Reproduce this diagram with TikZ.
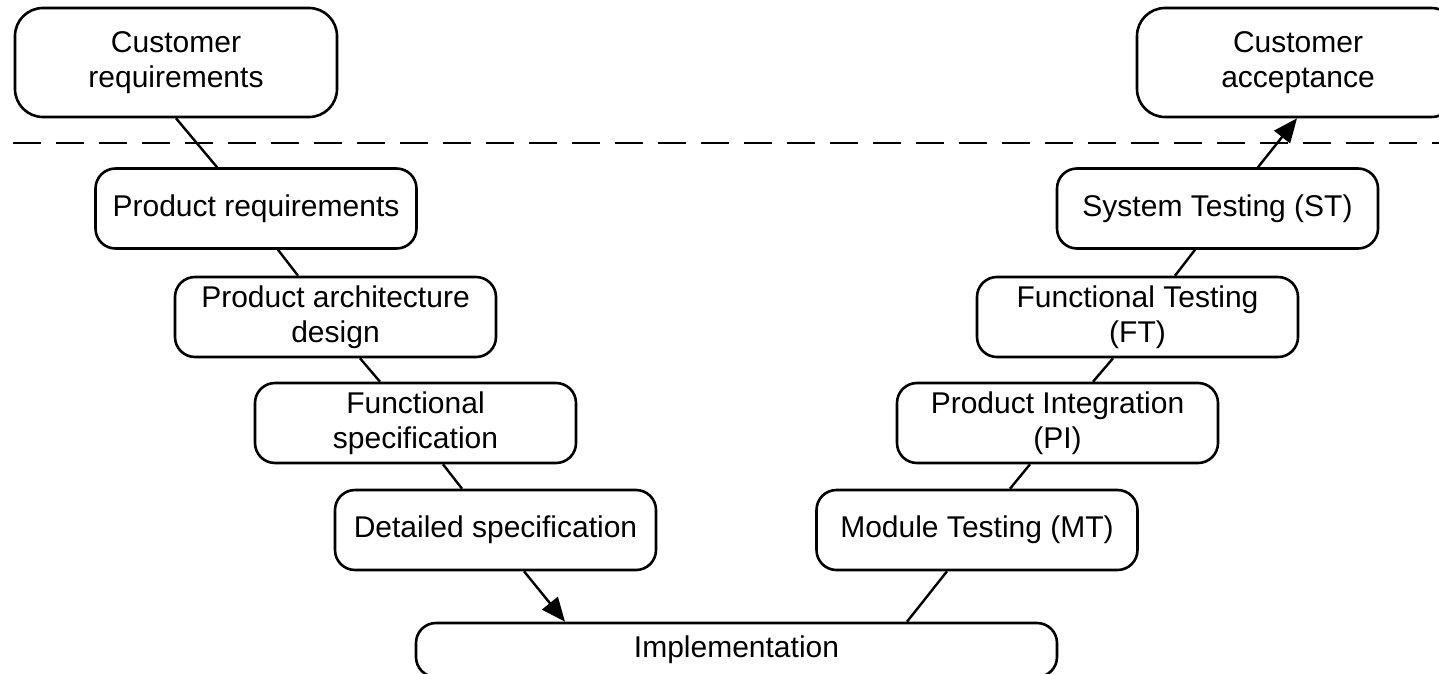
\documentclass[tikz,border=0pt]{standalone}
\usepackage{fontspec}
\setmainfont{Liberation Sans}
\usetikzlibrary{arrows.meta}
\tikzset{
  vbox/.style={draw, line width=2.6pt, rounded corners=20pt, inner sep=0pt,
    minimum width=321pt, minimum height=80pt, align=center,
    font=\fontsize{30}{35}\selectfont},
  custbox/.style={vbox, rounded corners=28pt, minimum width=322pt, minimum height=109pt},
  implbox/.style={vbox, minimum width=641pt, minimum height=54pt},
  link/.style={line width=2.4pt},
  arrowlink/.style={link, -{Triangle[length=24pt,width=20pt]}},
  sepline/.style={line width=2.6pt, dash pattern=on 28pt off 15pt}
}
\begin{document}
\begin{tikzpicture}[x=1pt,y=-1pt]
\clip (0,0) rectangle (1439,674);
\fill[white] (0,0) rectangle (1439,674);
% nodes
\node[custbox] (cr) at (176,62.5) {Customer\\requirements};
\node[custbox] (ca) at (1298,62.5) {Customer\\acceptance};
\node[vbox] (pr) at (256,208.5) {Product requirements};
\node[vbox] (pa) at (335.5,317) {Product architecture\\design};
\node[vbox] (fs) at (415.5,423) {Functional\\specification};
\node[vbox] (ds) at (495.5,530) {Detailed specification};
\node[implbox] (im) at (736.5,650) {Implementation};
\node[vbox] (mt) at (977,530) {Module Testing (MT)};
\node[vbox] (pi) at (1057.5,423) {Product Integration\\(PI)};
\node[vbox] (ft) at (1137.5,317) {Functional Testing\\(FT)};
\node[vbox] (st) at (1217.5,208.5) {System Testing (ST)};
% separator
\coordinate (sepL) at (13,143);
\coordinate (sepR) at (1439,143);
\draw[sepline] (sepL) -- (sepR);
% connectors
\draw[link] (cr.south) -- ([xshift=-39pt]pr.north);
\draw[link] ([xshift=22pt]pr.south) -- ([xshift=-37.5pt]pa.north);
\draw[link] ([xshift=24.5pt]pa.south) -- ([xshift=-35.5pt]fs.north);
\draw[link] ([xshift=27.5pt]fs.south) -- ([xshift=-33.5pt]ds.north);
\draw[arrowlink] ([xshift=28.5pt]ds.south) -- ([xshift=-171.5pt]im.north);
\draw[link] ([xshift=170.5pt]im.north) -- ([xshift=-30pt]mt.south);
\draw[link] ([xshift=33pt]mt.north) -- ([xshift=-27.5pt]pi.south);
\draw[link] ([xshift=35.5pt]pi.north) -- ([xshift=-24.5pt]ft.south);
\draw[link] ([xshift=37.5pt]ft.north) -- ([xshift=-22.5pt]st.south);
\draw[arrowlink] ([xshift=40.5pt]st.north) -- ([xshift=-1pt]ca.south);
\end{tikzpicture}
\end{document}
